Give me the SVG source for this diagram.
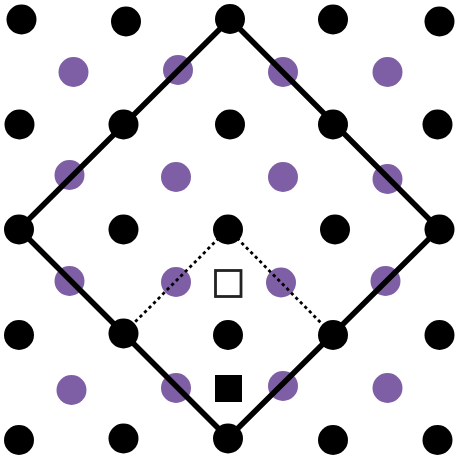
<svg xmlns="http://www.w3.org/2000/svg" width="456" height="460" viewBox="0 0 456 460">
<style>
.b{fill:#000}
.p{fill:#7e5fa5}
.solid{fill:none;stroke:#000;stroke-width:5.5;stroke-linejoin:miter}
.dot{fill:none;stroke:#000;stroke-width:2.8;stroke-dasharray:3.2 3.2}
</style>
<rect width="456" height="460" fill="#fff"/>
<g id="purple">
<circle class="p" cx="73.5" cy="72" r="15"/>
<circle class="p" cx="178" cy="70" r="15"/>
<circle class="p" cx="283" cy="72" r="15"/>
<circle class="p" cx="387.5" cy="72" r="15"/>
<circle class="p" cx="69.5" cy="175" r="15"/>
<circle class="p" cx="176" cy="177" r="15"/>
<circle class="p" cx="283" cy="177" r="15"/>
<circle class="p" cx="387.5" cy="179" r="15"/>
<circle class="p" cx="69.5" cy="281" r="15"/>
<circle class="p" cx="176" cy="282" r="15"/>
<circle class="p" cx="281" cy="282.5" r="15"/>
<circle class="p" cx="385.5" cy="281" r="15"/>
<circle class="p" cx="71.5" cy="390" r="15"/>
<circle class="p" cx="176" cy="388" r="15"/>
<circle class="p" cx="283" cy="386" r="15"/>
<circle class="p" cx="387.5" cy="388" r="15"/>
</g>
<g id="connectors">
<polygon class="solid" points="230,19 439,229 228,438 19,229"/>
<line class="dot" x1="228" y1="229" x2="124" y2="333"/>
<line class="dot" x1="228" y1="229" x2="333" y2="335"/>
</g>
<g id="open-square"><rect x="215.5" y="270.5" width="25.5" height="26" fill="#fff" stroke="#222" stroke-width="2.8"/></g>
<g id="filled-square"><rect x="215" y="375" width="27" height="27" fill="#000"/></g>
<g id="black">
<circle class="b" cx="21.5" cy="19.5" r="15"/>
<circle class="b" cx="126" cy="21.5" r="15"/>
<circle class="b" cx="230" cy="19" r="15"/>
<circle class="b" cx="333" cy="19.5" r="15"/>
<circle class="b" cx="439.5" cy="21.5" r="15"/>
<circle class="b" cx="19.5" cy="124.5" r="15"/>
<circle class="b" cx="123.5" cy="124.5" r="15"/>
<circle class="b" cx="230" cy="124.5" r="15"/>
<circle class="b" cx="333" cy="124.5" r="15"/>
<circle class="b" cx="437.5" cy="124.5" r="15"/>
<circle class="b" cx="19" cy="229.5" r="15"/>
<circle class="b" cx="123.5" cy="229.5" r="15"/>
<circle class="b" cx="228" cy="229.5" r="15"/>
<circle class="b" cx="335" cy="229.5" r="15"/>
<circle class="b" cx="439.5" cy="229.5" r="15"/>
<circle class="b" cx="19" cy="335" r="15"/>
<circle class="b" cx="123.5" cy="333.5" r="15"/>
<circle class="b" cx="228" cy="335" r="15"/>
<circle class="b" cx="333" cy="335" r="15"/>
<circle class="b" cx="439.5" cy="335" r="15"/>
<circle class="b" cx="19" cy="440" r="15"/>
<circle class="b" cx="123.5" cy="438.5" r="15"/>
<circle class="b" cx="228" cy="438.5" r="15"/>
<circle class="b" cx="333" cy="440" r="15"/>
<circle class="b" cx="437.5" cy="440" r="15"/>
</g>
</svg>
